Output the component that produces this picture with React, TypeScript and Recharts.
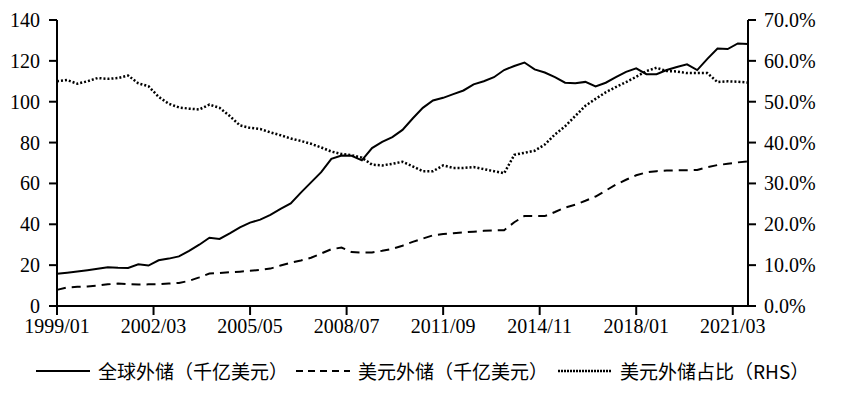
import { LineChart, Line, XAxis, YAxis } from 'recharts';

// one point every 4 months, starting 1999/01
const startYear = 1999;
const monthStep = 4;

const globalReserves = [
  15.8, 16.3, 16.9, 17.5, 18.2, 19.0, 18.7, 18.6, 20.4, 19.8,
  22.4, 23.2, 24.3, 27.0, 30.0, 33.4, 32.8, 35.5, 38.5, 40.8,
  42.3, 44.6, 47.5, 50.2, 55.5, 60.5, 65.5, 72.0, 73.7, 73.5,
  71.3, 77.3, 80.3, 82.7, 86.2, 91.8, 97.0, 100.6, 101.9, 103.7,
  105.5, 108.5, 110.0, 112.0, 115.5, 117.5, 119.2, 115.8, 114.3, 112.0,
  109.3, 109.0, 109.7, 107.5, 109.3, 112.0, 114.6, 116.3, 113.5, 113.5,
  115.5, 117.0, 118.3, 115.5, 121.0, 126.0, 125.8, 128.5, 128.2,
];

const usdReserves = [
  7.9, 9.1, 9.4, 9.6, 10.0, 10.6, 11.0, 10.7, 10.5, 10.6,
  10.7, 11.0, 11.3, 12.3, 14.0, 15.9, 16.2, 16.5, 16.8, 17.2,
  17.7, 18.3, 19.8, 21.2, 22.3, 23.6, 25.7, 27.8, 28.6, 26.4,
  26.2, 26.2, 27.0, 28.0, 29.5, 31.4, 33.0, 34.6, 35.2, 35.6,
  36.0, 36.4, 36.8, 37.0, 37.1, 41.0, 44.1, 44.0, 44.0, 46.0,
  48.2, 49.6, 51.5, 53.6, 56.5, 59.4, 61.8, 64.0, 65.4, 66.0,
  66.3, 66.4, 66.5, 66.6, 68.0, 69.0, 69.6, 70.3, 70.8,
];

const usdShare = [
  55.0, 55.3, 54.4, 55.0, 55.8, 55.6, 55.8, 56.4, 54.5, 53.8,
  51.2, 49.5, 48.6, 48.3, 48.1, 49.3, 48.5, 46.5, 44.2, 43.6,
  43.3, 42.5, 41.8, 41.0, 40.4, 39.7, 38.8, 37.8, 37.2, 36.9,
  36.3, 34.6, 34.4, 34.8, 35.3, 34.2, 33.0, 33.0, 34.4, 33.8,
  33.8, 34.0, 33.5, 33.0, 32.5, 37.0, 37.5, 38.0, 39.5, 42.0,
  44.0, 46.5, 49.0, 50.7, 52.3, 53.6, 54.8, 56.1, 57.5, 58.3,
  57.5, 57.4, 57.0, 57.0, 57.0, 54.8, 55.0, 54.9, 54.7,
];

const xTicks = [0, 38, 76, 114, 152, 190, 228, 266];
const leftTicks = [0, 20, 40, 60, 80, 100, 120, 140];
const rightTicks = [0, 10, 20, 30, 40, 50, 60, 70];

const seriesNames = ['全球外储（千亿美元）', '美元外储（千亿美元）', '美元外储占比（RHS）'];

const data = globalReserves.map((v, i) => ({
  m: i * monthStep,
  global: v,
  usd: usdReserves[i],
  share: usdShare[i],
}));

const fmtMonth = (m: number) => {
  const y = startYear + Math.floor(m / 12);
  const mo = (m % 12) + 1;
  return `${y}/${mo < 10 ? '0' + mo : mo}`;
};

const serif = "'Liberation Serif', 'Times New Roman', 'DejaVu Serif', serif";
const axisStroke = { stroke: '#000', strokeWidth: 2 };

function makeTick(anchor: 'start' | 'middle' | 'end', fmt: (v: number) => string, dy: number) {
  return (props: any) => {
    const { x, y, payload } = props;
    return (
      <text
        x={x}
        y={y}
        dy={dy}
        textAnchor={anchor}
        style={{ fontFamily: serif, fontSize: 20, fill: '#000' }}
      >
        {fmt(payload.value)}
      </text>
    );
  };
}

const XTick = makeTick('middle', fmtMonth, 15);
const LeftTick = makeTick('end', (v) => String(v), 7);
const RightTick = makeTick('start', (v) => `${v.toFixed(1)}%`, 7);

function LegendItem({ x, dash, text }: { x: number; dash?: string; text: string }) {
  return (
    <div style={{ position: 'absolute', left: x, top: 0, display: 'flex', alignItems: 'center' }}>
      <svg width={56} height={10}>
        <line x1={0} y1={5} x2={54} y2={5} stroke="#000" strokeWidth={dash === '2 1' ? 2.5 : 2} strokeDasharray={dash} />
      </svg>
      <span style={{ marginLeft: 6, fontSize: 19, fontFamily: '"Noto Sans CJK SC"', color: '#000' }}>{text}</span>
    </div>
  );
}

export default function App() {
  return (
    <div style={{ position: 'absolute', left: 0, top: 0, width: 848, height: 394, background: '#fff' }}>
      <LineChart width={848} height={345} data={data} margin={{ top: 20, right: 5, left: 0, bottom: 4 }}>
        <XAxis
          dataKey="m"
          type="number"
          domain={[0, 272]}
          ticks={xTicks}
          tick={XTick}
          axisLine={axisStroke}
          tickLine={axisStroke}
          tickSize={9}
          tickMargin={3}
          height={35}
          interval={0}
        />
        <YAxis
          yAxisId="left"
          domain={[0, 140]}
          ticks={leftTicks}
          tick={LeftTick}
          axisLine={axisStroke}
          tickLine={axisStroke}
          tickSize={8}
          tickMargin={9}
          width={57}
          interval={0}
        />
        <YAxis
          yAxisId="right"
          orientation="right"
          domain={[0, 70]}
          ticks={rightTicks}
          tick={RightTick}
          axisLine={axisStroke}
          tickLine={axisStroke}
          tickSize={8}
          tickMargin={8}
          width={95}
          interval={0}
        />
        <Line yAxisId="left" dataKey="global" stroke="#000" strokeWidth={2} dot={false} isAnimationActive={false} />
        <Line yAxisId="left" dataKey="usd" stroke="#000" strokeWidth={2} strokeDasharray="9 6" dot={false} isAnimationActive={false} />
        <Line yAxisId="right" dataKey="share" stroke="#000" strokeWidth={2.5} strokeDasharray="2 2" dot={false} isAnimationActive={false} />
      </LineChart>
      <div style={{ position: 'absolute', left: 0, top: 357, width: 848, height: 30 }}>
        <LegendItem x={36} text={seriesNames[0]} />
        <LegendItem x={296} dash="7 5" text={seriesNames[1]} />
        <LegendItem x={558} dash="2 1" text={seriesNames[2]} />
      </div>
    </div>
  );
}
